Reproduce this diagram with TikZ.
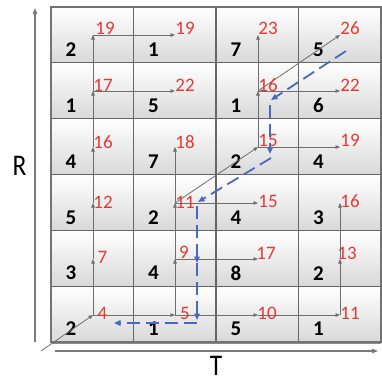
\documentclass[tikz,border=0pt]{standalone}
\usepackage{fontspec}
\setmainfont{Carlito}
\usetikzlibrary{arrows.meta}
\definecolor{numred}{HTML}{E53935}
\definecolor{pathblue}{HTML}{4A68C0}
\definecolor{arrgray}{HTML}{6E6E6E}
\definecolor{gridgray}{HTML}{666666}
\definecolor{axisgray}{HTML}{7A7A7A}
\begin{document}
\begin{tikzpicture}[x=1pt,y=-1pt,
  grayarr/.style={draw=arrgray, line width=0.8pt, -{Triangle[length=4.5pt,width=3.6pt]}},
  bluearr/.style={draw=pathblue, line width=1.8pt, dash pattern=on 13pt off 6pt, -{Triangle[length=6.5pt,width=5.5pt]}},
  axisarr/.style={draw=axisgray, line width=1.3pt, -{Triangle[length=6pt,width=4.5pt]}},
  rednum/.style={text=numred, font=\fontsize{19}{19}\selectfont, inner sep=0pt},
  bignum/.style={text=black, font=\bfseries\fontsize{21}{21}\selectfont, inner sep=0pt},
  axislabel/.style={font=\fontsize{30}{30}\selectfont, inner sep=0pt, xscale=0.85},
  cellshade/.style={top color=white, middle color=black!3, bottom color=black!15},
  gridline/.style={draw=gridgray, line width=1.2pt},
  border/.style={draw=black!55, line width=2pt}]
\useasboundingbox (0,0) rectangle (382,376);
% cells
\foreach \c in {0,...,3}
  \foreach \r in {0,...,5}
    \shade[cellshade] ({51+82.5*\c},{7+55.83*\r}) rectangle ({51+82.5*(\c+1)},{7+55.83*(\r+1)});
% grid lines
\foreach \c in {1,2,3}
  \draw[gridline] ({51+82.5*\c},7) -- ({51+82.5*\c},342);
\foreach \r in {1,...,5}
  \draw[gridline] (51,{7+55.83*\r}) -- (381,{7+55.83*\r});
\draw[border] (51,7) rectangle (381,342);
\draw[draw=black!45, line width=1pt] (52,343.5) -- (381,343.5);
% black numbers
\foreach \r/\vals in {6/{2,1,7,5},5/{1,5,1,6},4/{4,7,2,4},3/{5,2,4,3},2/{3,4,8,2},1/{2,1,5,1}}
  \foreach \v [count=\c] in \vals
    \node[bignum] (n\c\r) at ({51+82.5*(\c-1)+20},{329-55.83*(\r-1)}) {\v};
% grid points
\foreach \c/\x in {1/93,2/175,3/258,4/340}
  \foreach \r/\y in {1/315,2/259,3/203,4/147,5/91,6/35}
    \coordinate (p\c\r) at (\x,\y);
% axes
\coordinate (rbot) at (35,342);
\coordinate (rtop) at (35,8);
\coordinate (tleft) at (55,351);
\coordinate (tright) at (378,351);
\coordinate (origin) at (41,351);
\draw[axisarr] (rbot) -- (rtop);
\draw[axisarr] (tleft) -- (tright);
\node[axislabel] (rlab) at (19.5,165.5) {R};
\node[axislabel] (tlab) at (216,366) {T};
% gray arrows
\draw[grayarr] (origin) -- (p11);
\foreach \a/\b in {p11/p12,p12/p13,p13/p14,p14/p15,p15/p16,p16/p26,p15/p25,
  p11/p21,p21/p22,p22/p23,p23/p24,p22/p32,p23/p33,p23/p34,
  p34/p35,p35/p36,p34/p44,p35/p45,p35/p46,
  p21/p31,p31/p41,p41/p42,p42/p43}
  \draw[grayarr] (\a) -- (\b);
% red labels
\node[rednum] (r16) at (105,28) {19};
\node[rednum] (r26) at (185,28) {19};
\node[rednum] (r36) at (268,28) {23};
\node[rednum] (r46) at (350,28) {26};
\node[rednum] (r15) at (103,85) {17};
\node[rednum] (r25) at (185,85) {22};
\node[rednum] (r35) at (268,85) {16};
\node[rednum] (r45) at (350,85) {22};
\node[rednum] (r14) at (103,142) {16};
\node[rednum] (r24) at (185,142) {18};
\node[rednum] (r34) at (268,140) {15};
\node[rednum] (r44) at (350,140) {19};
\node[rednum] (r13) at (103,202) {12};
\node[rednum] (r23) at (185,202) {11};
\node[rednum] (r33) at (268,201) {15};
\node[rednum] (r43) at (350,201) {16};
\node[rednum] (r12) at (102.5,257) {7};
\node[rednum] (r22) at (184,252) {9};
\node[rednum] (r32) at (266,253) {17};
\node[rednum] (r42) at (347,253) {13};
\node[rednum] (r11) at (102.5,313) {4};
\node[rednum] (r21) at (185,313) {5};
\node[rednum] (r31) at (267,313) {10};
\node[rednum] (r41) at (350,313) {11};
% blue dashed path
\coordinate (b1) at (346,51);
\coordinate (b2) at (271,100);
\coordinate (b3) at (270,105);
\coordinate (b4) at (270,154);
\coordinate (b5) at (271,158);
\coordinate (b6) at (198,202);
\coordinate (b7) at (197,206);
\coordinate (b8) at (197,263);
\coordinate (b9) at (197,320);
\coordinate (b10) at (197,323);
\coordinate (b11) at (114,323);
\draw[bluearr] (b1) -- (b2);
\draw[bluearr] (b3) -- (b4);
\draw[bluearr] (b5) -- (b6);
\draw[bluearr] (b7) -- (b8);
\draw[bluearr] (b8) -- (b9);
\draw[bluearr] (b10) -- (b11);
\end{tikzpicture}
\end{document}
